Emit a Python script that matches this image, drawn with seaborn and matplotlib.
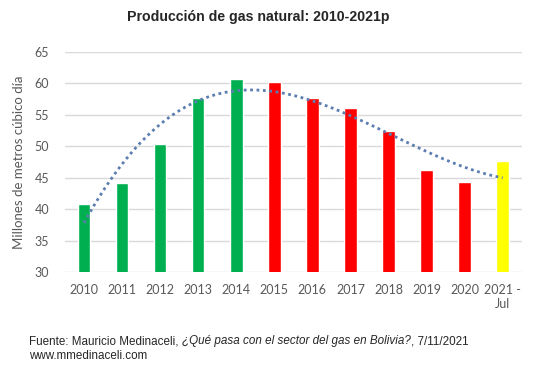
"""
Produccion de gas natural en Bolivia, 2010-2021p (barras + tendencia).
"""
import numpy as np
import pandas as pd
import matplotlib
matplotlib.use("Agg")
import matplotlib.pyplot as plt
import seaborn as sns

# datos
years = ["2010", "2011", "2012", "2013", "2014", "2015", "2016",
         "2017", "2018", "2019", "2020", "2021 -\nJul"]
produccion = [40.8, 44.2, 50.35, 57.6, 60.7, 60.2, 57.6, 56.1, 52.5, 46.2, 44.3, 47.6]
colores = ["#00B050"] * 5 + ["#FF0000"] * 6 + ["#FFFF00"]
y_ticks = [30, 35, 40, 45, 50, 55, 60, 65]

sns.set_style("white")
plt.rcParams["font.family"] = ["Liberation Sans", "DejaVu Sans"]

df = pd.DataFrame({"anio": years, "valor": produccion, "pos": range(len(years))})

fig = plt.figure(figsize=(5.37, 3.70), dpi=100)
ax = fig.add_axes([0.121, 0.265, 0.8505, 0.5945])

sns.barplot(data=df, x="anio", y="valor", hue="anio", palette=colores,
            legend=False, width=0.33, saturation=1, ax=ax, zorder=2)

# linea de tendencia polinomica (como la de Excel)
sns.regplot(data=df, x="pos", y="valor", order=3, ci=None, scatter=False,
            truncate=True, ax=ax,
            line_kws={"color": "#5B7DB1", "linestyle": (0, (1, 1.3)),
                      "linewidth": 2.0, "zorder": 3})

ax.set_xlim(-0.5, len(years) - 0.5)
ax.set_ylim(30, 65)
ax.set_yticks(y_ticks)
ax.yaxis.grid(True, color="#D9D9D9", linewidth=1.0, zorder=0)
ax.set_axisbelow(True)
sns.despine(ax=ax, left=True, bottom=True)

ax.tick_params(axis="both", length=0, labelcolor="#595959", labelsize=9)
ax.tick_params(axis="y", pad=11.5)
ax.tick_params(axis="x", pad=9)
for lab in ax.get_xticklabels() + ax.get_yticklabels():
    lab.set_family(["Lato", "DejaVu Sans"])
for lab in ax.get_xticklabels():
    lab.set_multialignment("center")

ax.set_xlabel("")
ax.set_ylabel("Millones de metros cúbico día", color="#595959", fontsize=9.5,
              family=["Lato", "DejaVu Sans"], labelpad=7)

fig.text(0.48, 0.955, "Producción de gas natural: 2010-2021p",
         ha="center", va="center", fontsize=10.2, fontweight="bold")

# fuente, con el titulo del articulo en cursiva
fig.canvas.draw()
renderer = fig.canvas.get_renderer()
x0, y1, y2 = 0.054, 0.069, 0.031
partes = [("Fuente: Mauricio Medinaceli, ", "normal"),
          ("¿Qué pasa con el sector del gas en Bolivia?", "italic"),
          (", 7/11/2021", "normal")]
x = x0
for txt, estilo in partes:
    t = fig.text(x, y1, txt, fontsize=8.4, style=estilo, ha="left", va="baseline")
    bb = t.get_window_extent(renderer=renderer)
    x += bb.width / fig.bbox.width
fig.text(x0, y2, "www.mmedinaceli.com", fontsize=8.4, ha="left", va="baseline")

fig.savefig("out.png", dpi=100)
